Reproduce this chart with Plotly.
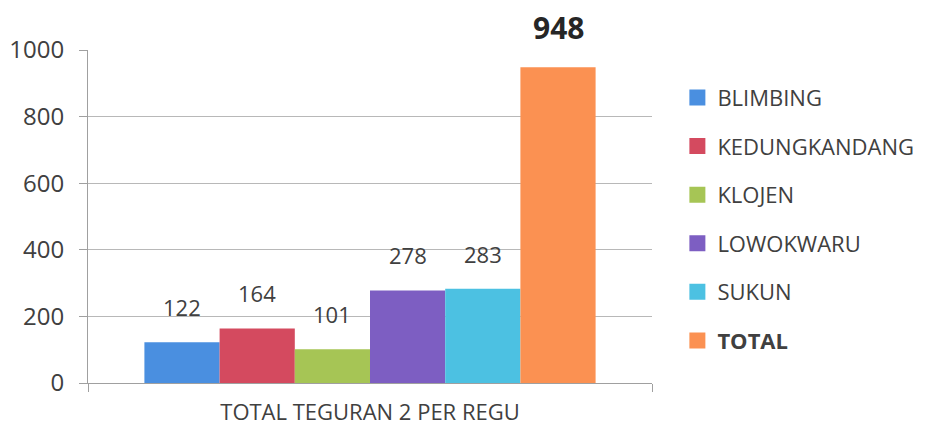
import plotly.graph_objects as go

category = ["TOTAL TEGURAN 2 PER REGU"]
series_names = ["BLIMBING", "KEDUNGKANDANG", "KLOJEN", "LOWOKWARU", "SUKUN", "TOTAL"]
series_values = [122, 164, 101, 278, 283, 948]
colors = ["#4a8fe0", "#d44a5f", "#a6c555", "#7d5ec2", "#4cc1e2", "#fb9152"]

BARGAP = 0.2
FONT = "Open Sans"

fig = go.Figure()
n = len(series_names)
for i, (name, val, col) in enumerate(zip(series_names, series_values, colors)):
    is_total = name == "TOTAL"
    fig.add_trace(go.Bar(
        x=category, y=[val], name=name,
        marker=dict(color=col, line=dict(width=0)),
        legendgroup=name, showlegend=False,
    ))
    # legend entry with a larger square swatch
    fig.add_trace(go.Scatter(
        x=category, y=[None], mode="markers",
        name=("<b>%s</b>" % name) if is_total else name,
        marker=dict(symbol="square", size=17, color=col, line=dict(width=0)),
        legendgroup=name, showlegend=True, hoverinfo="skip",
    ))
    # value label above each bar, centred on its slot within the group
    xpos = -(1 - BARGAP) / 2 + (i + 0.5) * (1 - BARGAP) / n
    fig.add_annotation(
        x=xpos, y=val, xref="x", yref="y",
        text=("<b>%d</b>" % val) if is_total else str(val),
        showarrow=False, yanchor="bottom", xanchor="center",
        yshift=17 if is_total else 18,
        font=dict(size=30 if is_total else 22, color="#262626" if is_total else "#404040", family=FONT),
    )

fig.update_layout(
    width=930, height=429,
    barmode="group", bargap=BARGAP, bargroupgap=0,
    paper_bgcolor="white", plot_bgcolor="white",
    margin=dict(l=80, r=286, t=42, b=54),
    font=dict(family=FONT, color="#404040"),
    showlegend=True,
    legend=dict(x=1.045, y=0.92, xanchor="left", yanchor="top",
                bgcolor="rgba(0,0,0,0)",
                font=dict(size=22, color="#404040"),
                tracegroupgap=17, traceorder="grouped", itemsizing="trace"),
)
fig.update_yaxes(range=[0, 1000], dtick=200, showgrid=True, gridcolor="#b8b8b8", gridwidth=1,
                 showline=True, linecolor="#a0a0a0", ticks="outside", ticklen=8, tickcolor="#a0a0a0",
                 ticklabelstandoff=10, automargin=False,
                 tickfont=dict(size=24, color="#404040"), zeroline=False)
fig.update_xaxes(showline=True, linecolor="#a0a0a0", ticks="outside", tickson="boundaries",
                 ticklen=8, tickcolor="#a0a0a0", ticklabelstandoff=10, automargin=False,
                 tickfont=dict(size=22, color="#404040"))

fig.write_html("out.html")
